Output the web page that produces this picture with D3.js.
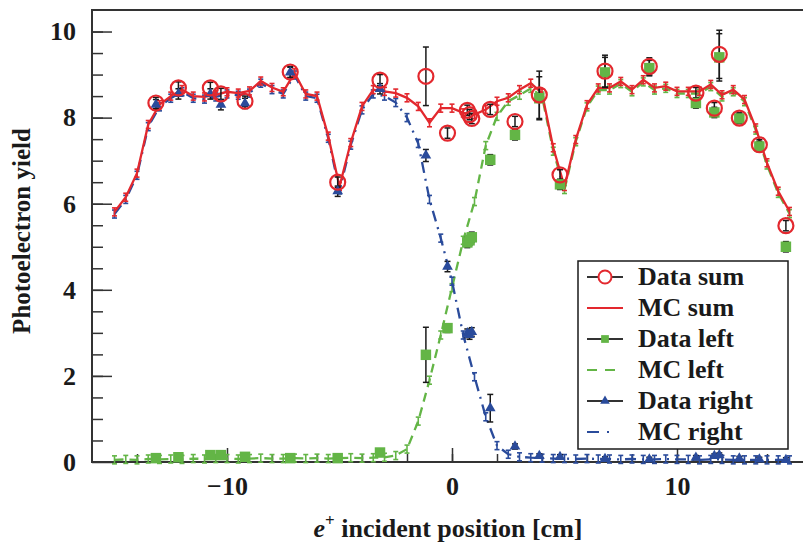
<!DOCTYPE html>
<html>
<head>
<meta charset="utf-8">
<script src="https://cdn.jsdelivr.net/npm/d3@7"></script>
<style>
  body { margin: 0; background: #fff; }
  svg { display: block; }
  .tick text { font-family: "Liberation Serif", "Times New Roman", serif; font-weight: bold; font-size: 26px; fill: #1a1a1a; }
</style>
</head>
<body>
<div id="vis"></div>
<script>
// chart values

// MC positions, cm
const MC_X = [-15, -14.5, -14, -13.5, -13, -12.5, -12, -11.5, -11, -10.5,
              -10, -9.5, -9, -8.5, -8, -7.5, -7, -6.5, -6, -5.5,
              -5, -4.5, -4, -3.5, -3, -2.5, -2, -1.5, -1, -0.5,
              0, 0.5, 1, 1.5, 2, 2.5, 3, 3.5, 4, 4.5,
              5, 5.5, 6, 6.5, 7, 7.5, 8, 8.5, 9, 9.5,
              10, 10.5, 11, 11.5, 12, 12.5, 13, 13.5, 14, 14.5, 15];

const MC_SUM = [5.81, 6.15, 6.71, 7.84, 8.30, 8.50, 8.65, 8.50, 8.48, 8.53,
                8.60, 8.57, 8.62, 8.85, 8.70, 8.60, 9.04, 8.55, 8.50, 7.57,
                6.40, 7.42, 8.26, 8.65, 8.61, 8.57, 8.46, 8.26, 7.88, 8.22,
                8.22, 8.11, 8.07, 8.19, 8.38, 8.46, 8.65, 8.80, 8.57, 7.30,
                6.40, 7.49, 8.30, 8.69, 8.69, 8.84, 8.65, 8.88, 8.69, 8.73,
                8.61, 8.61, 8.61, 8.77, 8.53, 8.65, 8.42, 7.76, 6.95, 6.29, 5.82];

const MC_LEFT = [0.05, 0.06, 0.05, 0.07, 0.06, 0.07, 0.06, 0.08, 0.07, 0.08,
                 0.08, 0.07, 0.08, 0.09, 0.08, 0.08, 0.09, 0.08, 0.09, 0.08,
                 0.09, 0.10, 0.09, 0.10, 0.11, 0.15, 0.30, 0.95, 1.90, 2.95,
                 4.05, 5.15, 6.05, 7.35, 8.03, 8.38, 8.52, 8.68, 8.50, 7.22,
                 6.33, 7.44, 8.25, 8.64, 8.64, 8.79, 8.60, 8.83, 8.64, 8.68,
                 8.56, 8.56, 8.56, 8.72, 8.48, 8.60, 8.37, 7.71, 6.90, 6.24, 5.77];

const MC_RIGHT = [5.76, 6.10, 6.66, 7.79, 8.25, 8.45, 8.60, 8.45, 8.43, 8.48,
                  8.55, 8.52, 8.57, 8.80, 8.65, 8.55, 8.99, 8.50, 8.45, 7.52,
                  6.32, 7.36, 8.18, 8.55, 8.50, 8.35, 8.00, 7.40, 6.10, 5.20,
                  4.20, 2.95, 1.98, 1.05, 0.38, 0.18, 0.12, 0.10, 0.09, 0.08,
                  0.08, 0.07, 0.08, 0.07, 0.07, 0.06, 0.07, 0.06, 0.06, 0.07,
                  0.06, 0.06, 0.05, 0.06, 0.06, 0.05, 0.05, 0.05, 0.05, 0.05, 0.05];

// measured positions, cm
const DATA_X = [-13.16, -12.16, -10.74, -10.27, -9.20, -7.19, -5.08, -3.20, -1.16, -0.20,
                0.68, 0.78, 0.88, 1.70, 2.80, 3.88, 4.80, 6.80, 8.77, 10.84,
                11.66, 11.88, 12.77, 13.66, 14.84];

const DATA_SUM = [8.34, 8.69, 8.69, 8.55, 8.38, 9.06, 6.50, 8.87, 8.96, 7.64,
                  8.17, 8.07, 7.98, 8.19, 7.91, 8.53, 6.67, 9.08, 9.19, 8.57,
                  8.22, 9.47, 7.99, 7.37, 5.49];
const DATA_SUM_ERR = [0.13, 0.14, 0.13, 0.13, 0.12, 0.13, 0.12, 0.13, 0.68, 0.12,
                      0.12, 0.12, 0.12, 0.12, 0.12, 0.55, 0.12, 0.37, 0.20, 0.13,
                      0.13, 0.56, 0.12, 0.12, 0.12];

const DATA_LEFT = [0.09, 0.11, 0.16, 0.16, 0.12, 0.09, 0.09, 0.22, 2.49, 3.11,
                   5.10, 5.15, 5.22, 7.02, 7.60, 8.45, 6.45, 9.05, 9.15, 8.34,
                   8.12, 9.40, 7.98, 7.33, 5.00];
const DATA_LEFT_ERR = [0.05, 0.05, 0.05, 0.05, 0.05, 0.05, 0.05, 0.06, 0.64, 0.10,
                       0.12, 0.12, 0.12, 0.12, 0.12, 0.50, 0.12, 0.35, 0.18, 0.12,
                       0.12, 0.55, 0.12, 0.12, 0.12];

const DATA_RIGHT = [8.30, 8.55, 8.55, 8.30, 8.33, 9.05, 6.29, 8.67, 7.12, 4.54,
                    2.99, 2.95, 3.02, 1.25, 0.36, 0.14, 0.12, 0.07, 0.06, 0.10,
                    0.14, 0.16, 0.08, 0.06, 0.05];
const DATA_RIGHT_ERR = [0.12, 0.12, 0.12, 0.12, 0.12, 0.12, 0.12, 0.12, 0.14, 0.12,
                        0.10, 0.10, 0.10, 0.32, 0.06, 0.05, 0.05, 0.05, 0.05, 0.05,
                        0.05, 0.05, 0.05, 0.05, 0.05];

const X_TICKS = [-10, 0, 10];
const Y_TICKS = [0, 2, 4, 6, 8, 10];
const LEGEND_LABELS = ["Data sum", "MC sum", "Data left", "MC left", "Data right", "MC right"];

// layout
const FRAME_WIDTH = 803;
const FRAME_HEIGHT = 548;
const MARGINS = {left: 92, right: -9, top: 10, bottom: 86};
const VIS_WIDTH = FRAME_WIDTH - MARGINS.left - MARGINS.right;
const VIS_HEIGHT = FRAME_HEIGHT - MARGINS.top - MARGINS.bottom;

const RED = "#e3282e";
const GREEN = "#63b546";
const BLUE = "#2a4b9b";
const INK = "#1a1a1a";
const FONT = "'Liberation Serif', 'Times New Roman', serif";

const FRAME = d3.select("#vis")
                .append("svg")
                    .attr("width", FRAME_WIDTH)
                    .attr("height", FRAME_HEIGHT);

const X_SCALE = d3.scaleLinear()
                    .domain([-16, 16])
                    .range([MARGINS.left, MARGINS.left + VIS_WIDTH]);

const Y_SCALE = d3.scaleLinear()
                    .domain([0, 10.5])
                    .range([MARGINS.top + VIS_HEIGHT, MARGINS.top]);

const BOTTOM = MARGINS.top + VIS_HEIGHT;

// minor ticks
FRAME.append("g")
    .attr("transform", "translate(0," + BOTTOM + ")")
    .call(d3.axisBottom(X_SCALE).tickValues(d3.range(-14, 16, 2)).tickSize(-8).tickFormat(""))
    .call(g => g.select(".domain").remove())
    .selectAll("line").attr("stroke", "#333").attr("stroke-width", 1.5);

FRAME.append("g")
    .attr("transform", "translate(" + MARGINS.left + ",0)")
    .call(d3.axisLeft(Y_SCALE).tickValues(d3.range(0.5, 10.5, 0.5)).tickSize(-11).tickFormat(""))
    .call(g => g.select(".domain").remove())
    .selectAll("line").attr("stroke", "#333").attr("stroke-width", 1.5);

// major ticks with labels
FRAME.append("g")
    .attr("transform", "translate(0," + BOTTOM + ")")
    .call(d3.axisBottom(X_SCALE).tickValues(X_TICKS).tickSize(-14).tickPadding(15)
            .tickFormat(d => d < 0 ? "\u2212" + Math.abs(d) : d))
    .call(g => g.select(".domain").remove())
    .selectAll("line").attr("stroke", "#333").attr("stroke-width", 1.5);

FRAME.append("g")
    .attr("transform", "translate(" + MARGINS.left + ",0)")
    .call(d3.axisLeft(Y_SCALE).tickValues(Y_TICKS).tickSize(-20).tickPadding(16))
    .call(g => g.select(".domain").remove())
    .selectAll("line").attr("stroke", "#333").attr("stroke-width", 1.5);

// frame
FRAME.append("rect")
    .attr("x", MARGINS.left)
    .attr("y", MARGINS.top)
    .attr("width", VIS_WIDTH)
    .attr("height", VIS_HEIGHT)
    .attr("fill", "none")
    .attr("stroke", "#333")
    .attr("stroke-width", 2);

// axis titles
FRAME.append("text")
    .attr("transform", "translate(30," + (MARGINS.top + VIS_HEIGHT / 2 - 5) + ") rotate(-90)")
    .attr("text-anchor", "middle")
    .attr("font-family", FONT)
    .attr("font-weight", "bold")
    .attr("font-size", 25)
    .attr("fill", INK)
    .text("Photoelectron yield");

const XTITLE = FRAME.append("text")
    .attr("x", 448)
    .attr("y", 537)
    .attr("text-anchor", "middle")
    .attr("font-family", FONT)
    .attr("font-weight", "bold")
    .attr("font-size", 26)
    .attr("fill", INK);
XTITLE.append("tspan").attr("font-style", "italic").text("e");
XTITLE.append("tspan").attr("font-size", 17).attr("dy", -11).text("+");
XTITLE.append("tspan").attr("dy", 11).text(" incident position [cm]");

// MC curves
const MC_SERIES = [
    {vals: MC_LEFT, color: GREEN, dash: "9,6"},
    {vals: MC_RIGHT, color: BLUE, dash: "11,6,2,6"},
    {vals: MC_SUM, color: RED, dash: null}
];

MC_SERIES.forEach((s) => {
    const pts = MC_X.map((x, i) => [x, s.vals[i]]);

    FRAME.append("path")
        .datum(pts)
        .attr("fill", "none")
        .attr("stroke", s.color)
        .attr("stroke-width", 2.3)
        .attr("stroke-dasharray", s.dash)
        .attr("d", d3.line()
            .x((d) => { return X_SCALE(d[0]); })
            .y((d) => { return Y_SCALE(d[1]); }));

    // small stat error bars on MC points
    const eb = FRAME.append("g").attr("stroke", s.color).attr("stroke-width", 1.6);
    eb.selectAll("line.v")
        .data(pts)
        .enter()
        .append("line")
            .attr("x1", (d) => X_SCALE(d[0]))
            .attr("x2", (d) => X_SCALE(d[0]))
            .attr("y1", (d) => Y_SCALE(d[1]) - 4)
            .attr("y2", (d) => Y_SCALE(d[1]) + 4);
    eb.selectAll("line.c1")
        .data(pts)
        .enter()
        .append("line")
            .attr("x1", (d) => X_SCALE(d[0]) - 2.5)
            .attr("x2", (d) => X_SCALE(d[0]) + 2.5)
            .attr("y1", (d) => Y_SCALE(d[1]) - 4)
            .attr("y2", (d) => Y_SCALE(d[1]) - 4);
    eb.selectAll("line.c2")
        .data(pts)
        .enter()
        .append("line")
            .attr("x1", (d) => X_SCALE(d[0]) - 2.5)
            .attr("x2", (d) => X_SCALE(d[0]) + 2.5)
            .attr("y1", (d) => Y_SCALE(d[1]) + 4)
            .attr("y2", (d) => Y_SCALE(d[1]) + 4);
});

// data points with black error bars
function errorBars(vals, errs) {
    const pts = DATA_X.map((x, i) => ({x: x, y: vals[i], e: errs[i]}));
    const g = FRAME.append("g").attr("stroke", INK).attr("stroke-width", 1.5);
    pts.forEach((p) => {
        const cx = X_SCALE(p.x);
        const top = Y_SCALE(p.y + p.e);
        const bot = Y_SCALE(p.y - p.e);
        g.append("line").attr("x1", cx).attr("x2", cx).attr("y1", top).attr("y2", bot);
        g.append("line").attr("x1", cx - 3).attr("x2", cx + 3).attr("y1", top).attr("y2", top);
        g.append("line").attr("x1", cx - 3).attr("x2", cx + 3).attr("y1", bot).attr("y2", bot);
    });
    return pts;
}

const RIGHT_PTS = errorBars(DATA_RIGHT, DATA_RIGHT_ERR);
const LEFT_PTS = errorBars(DATA_LEFT, DATA_LEFT_ERR);
const SUM_PTS = errorBars(DATA_SUM, DATA_SUM_ERR);

const TRI = d3.symbol().type(d3.symbolTriangle).size(50);
const SQR = d3.symbol().type(d3.symbolSquare).size(110);

FRAME.selectAll(".tri")
    .data(RIGHT_PTS)
    .enter()
    .append("path")
        .attr("class", "tri")
        .attr("d", TRI)
        .attr("transform", (d) => "translate(" + X_SCALE(d.x) + "," + Y_SCALE(d.y) + ")")
        .attr("fill", BLUE);

FRAME.selectAll(".sqr")
    .data(LEFT_PTS)
    .enter()
    .append("path")
        .attr("class", "sqr")
        .attr("d", SQR)
        .attr("transform", (d) => "translate(" + X_SCALE(d.x) + "," + Y_SCALE(d.y) + ")")
        .attr("fill", GREEN);

FRAME.selectAll(".circ")
    .data(SUM_PTS)
    .enter()
    .append("circle")
        .attr("class", "circ")
        .attr("cx", (d) => X_SCALE(d.x))
        .attr("cy", (d) => Y_SCALE(d.y))
        .attr("r", 7.5)
        .attr("fill", "none")
        .attr("stroke", RED)
        .attr("stroke-width", 2.2);

// legend
const LEG = FRAME.append("g");
LEG.append("rect")
    .attr("x", 578).attr("y", 261)
    .attr("width", 210).attr("height", 188)
    .attr("fill", "#fff")
    .attr("stroke", INK)
    .attr("stroke-width", 1.5);

LEGEND_LABELS.forEach((lab, i) => {
    const cy = 277 + i * 31;
    const row = LEG.append("g");
    if (i === 0 || i === 2 || i === 4) {
        row.append("line").attr("x1", 587).attr("x2", 623).attr("y1", cy).attr("y2", cy)
            .attr("stroke", "#333").attr("stroke-width", 1.8);
    }
    if (i === 0) {
        row.append("circle").attr("cx", 605).attr("cy", cy).attr("r", 6.5)
            .attr("fill", "#fff").attr("stroke", RED).attr("stroke-width", 2);
    } else if (i === 1) {
        row.append("line").attr("x1", 587).attr("x2", 623).attr("y1", cy).attr("y2", cy)
            .attr("stroke", RED).attr("stroke-width", 2.2);
    } else if (i === 2) {
        row.append("path").attr("d", d3.symbol().type(d3.symbolSquare).size(60))
            .attr("transform", "translate(605," + cy + ")").attr("fill", GREEN);
    } else if (i === 3) {
        row.append("line").attr("x1", 587).attr("x2", 623).attr("y1", cy).attr("y2", cy)
            .attr("stroke", GREEN).attr("stroke-width", 2.2).attr("stroke-dasharray", "10,8");
    } else if (i === 4) {
        row.append("path").attr("d", d3.symbol().type(d3.symbolTriangle).size(40))
            .attr("transform", "translate(605," + cy + ")").attr("fill", BLUE);
    } else {
        row.append("line").attr("x1", 587).attr("x2", 623).attr("y1", cy).attr("y2", cy)
            .attr("stroke", BLUE).attr("stroke-width", 2.2).attr("stroke-dasharray", "12,8,2,20");
    }
    row.append("text")
        .attr("x", 638).attr("y", cy + 8)
        .attr("font-family", FONT)
        .attr("font-weight", "bold")
        .attr("font-size", 26)
        .attr("fill", INK)
        .text(lab);
});
</script>
</body>
</html>
